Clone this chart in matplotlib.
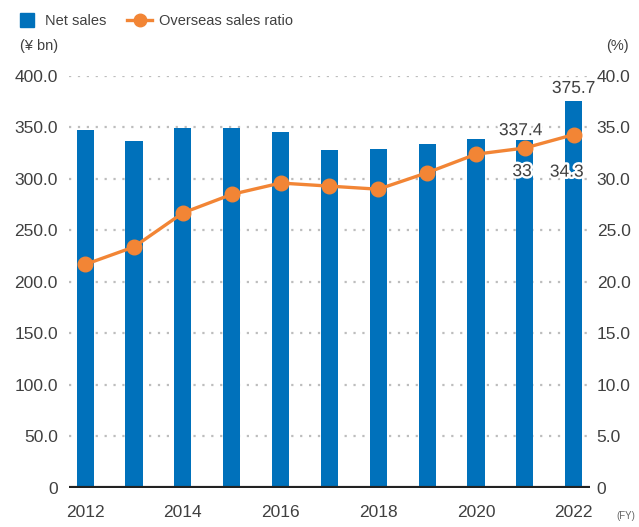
import matplotlib
matplotlib.use("Agg")
import matplotlib.pyplot as plt
import matplotlib.patheffects as pe
from matplotlib.lines import Line2D

years = [2012, 2013, 2014, 2015, 2016, 2017, 2018, 2019, 2020, 2021, 2022]
net_sales = [347.6, 337.0, 349.8, 349.8, 345.8, 328.0, 329.2, 334.2, 339.0, 337.4, 375.7]
overseas_ratio = [21.7, 23.4, 26.7, 28.5, 29.6, 29.3, 29.0, 30.6, 32.4, 33.0, 34.3]
left_ticks = [0, 50, 100, 150, 200, 250, 300, 350, 400]
left_ticklabels = ["0", "50.0", "100.0", "150.0", "200.0", "250.0", "300.0", "350.0", "400.0"]
right_ticks = [0, 5, 10, 15, 20, 25, 30, 35, 40]
right_ticklabels = ["0", "5.0", "10.0", "15.0", "20.0", "25.0", "30.0", "35.0", "40.0"]

BLUE = "#0071bb"
ORANGE = "#f28535"
TEXT = "#404040"
plt.rcParams["font.family"] = ["Liberation Sans", "DejaVu Sans"]

fig = plt.figure(figsize=(6.39, 5.27), dpi=100)
ax = fig.add_axes([0.108, 0.074, 0.815, 0.782])
ax2 = ax.twinx()

x = list(range(len(years)))
ax.bar(x, net_sales, width=0.35, color=BLUE, zorder=2)
ax.set_xlim(-0.33, len(years) - 1 + 0.33)
ax.set_ylim(0, 400)
ax.set_yticks(left_ticks)
ax.set_yticklabels(left_ticklabels)
for v in left_ticks[1:]:
    ax.axhline(v, color="#bdbdbd", lw=1.6, ls=(0, (1, 3)), zorder=1)
ax.axhline(0, color="#222222", lw=3, zorder=3)

ax2.plot(x, overseas_ratio, color=ORANGE, lw=2.4, marker="o", ms=10.5, zorder=4)
ax2.set_ylim(0, 40)
ax2.set_yticks(right_ticks)
ax2.set_yticklabels(right_ticklabels)

for a in (ax, ax2):
    for s in a.spines.values():
        s.set_visible(False)
    a.tick_params(length=0, labelsize=12.5, colors=TEXT)
ax.tick_params(axis="y", pad=8)
ax2.tick_params(axis="y", pad=5)

ax.set_xticks(x[::2])
ax.set_xticklabels([str(y) for y in years[::2]])
ax.tick_params(axis="x", pad=12)

halo = [pe.withStroke(linewidth=3.5, foreground="white")]
lbl = dict(fontsize=12.5, color=TEXT, ha="center", va="center", path_effects=halo, zorder=6)
ax.annotate(f"{net_sales[-1]:.1f}", (x[-1], net_sales[-1]), xytext=(0, 9),
            textcoords="offset points", bbox=dict(fc="white", ec="none", pad=1.5), **lbl)
ax.annotate(f"{net_sales[-2]:.1f}", (x[-2], net_sales[-2]), xytext=(-3, 7),
            textcoords="offset points", **lbl)
ax2.annotate(f"{overseas_ratio[-2]:g}", (x[-2], overseas_ratio[-2]), xytext=(-2, -17),
             textcoords="offset points", **lbl)
ax2.annotate(f"{overseas_ratio[-1]:g}", (x[-1], overseas_ratio[-1]), xytext=(-5, -27),
             textcoords="offset points", **lbl)

fig.text(20 / 639, 1 - 46 / 527, "(¥ bn)", fontsize=10.5, color=TEXT, va="center")
fig.text(606 / 639, 1 - 46 / 527, "(%)", fontsize=10.5, color=TEXT, va="center")
fig.text(616 / 639, 1 - 516 / 527, "(FY)", fontsize=7, color="#666666", va="center")

handles = [Line2D([], [], color=BLUE, marker="s", ms=10, ls="none"),
           Line2D([], [], color=ORANGE, lw=2.4, marker="o", ms=9)]
fig.legend(handles, ["Net sales", "Overseas sales ratio"], loc="upper left",
           bbox_to_anchor=(1 / 639, 1 - 1 / 527), ncol=2, frameon=False,
           fontsize=10.5, handlelength=1.7, handletextpad=0.45, columnspacing=1.4,
           labelcolor=TEXT)

fig.savefig("out.png", dpi=100)
